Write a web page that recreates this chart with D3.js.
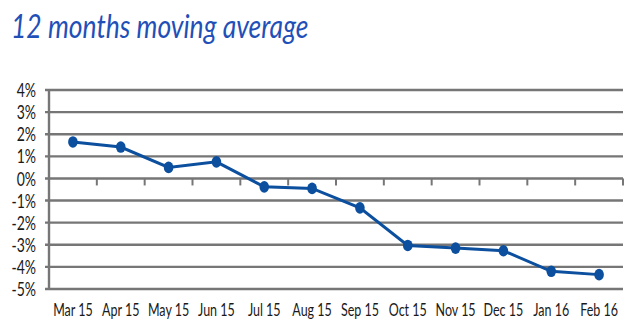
<!DOCTYPE html>
<html><head><meta charset="utf-8">
<script src="https://cdn.jsdelivr.net/npm/d3@7"></script>
<style>body{margin:0;background:#fff}svg{display:block}</style>
</head><body><svg id="c" width="640" height="328"></svg>
<script>
const categories = ["Mar 15","Apr 15","May 15","Jun 15","Jul 15","Aug 15","Sep 15","Oct 15","Nov 15","Dec 15","Jan 16","Feb 16"];
const values = [1.65, 1.42, 0.5, 0.75, -0.38, -0.45, -1.33, -3.03, -3.15, -3.27, -4.2, -4.35];
const yTicks = [4,3,2,1,0,-1,-2,-3,-4,-5];
const yTickLabels = ["4%","3%","2%","1%","0%","-1%","-2%","-3%","-4%","-5%"];
const title = "12 months moving average";

const svg = d3.select("#c");
const x = d3.scaleBand().domain(categories).range([49, 623]);
const y = d3.scaleLinear().domain([-5, 4]).range([289, 90]);
const SY = 1.4;
const gridColor = "#767676";
const lineColor = "#0B4F9E";

svg.append("g").attr("transform", `translate(11,38) scale(1,1.25)`)
  .append("text").text(title)
  .attr("font-family", "Lato, sans-serif").attr("font-style", "italic")
  .attr("font-size", 26.5).attr("fill", "#1F50B8");

// gridlines
svg.append("g").selectAll("line").data(yTicks).join("line")
  .attr("x1", 45).attr("x2", 623)
  .attr("y1", d => y(d)).attr("y2", d => y(d))
  .attr("stroke", gridColor).attr("stroke-width", 2.4);

// y axis line
svg.append("line").attr("x1", 49).attr("x2", 49).attr("y1", y(4) - 1).attr("y2", y(-5) + 1)
  .attr("stroke", gridColor).attr("stroke-width", 2.4);

// category ticks on 0 line
svg.append("g").selectAll("line").data(categories).join("line")
  .attr("x1", d => x(d) + x.bandwidth()).attr("x2", d => x(d) + x.bandwidth())
  .attr("y1", y(0)).attr("y2", y(0) + 7)
  .attr("stroke", gridColor).attr("stroke-width", 2);

// y labels
svg.append("g").selectAll("g").data(yTicks).join("g")
  .attr("transform", d => `translate(36,${y(d)}) scale(1,${SY})`)
  .append("text").text((d, i) => yTickLabels[i])
  .attr("text-anchor", "end").attr("dy", "0.36em")
  .attr("font-family", "Lato, sans-serif").attr("font-size", 14).attr("fill", "#1a1a1a");

// x labels
svg.append("g").selectAll("g").data(categories).join("g")
  .attr("transform", d => `translate(${x(d) + x.bandwidth() / 2},316) scale(1,${SY})`)
  .append("text").text(d => d)
  .attr("text-anchor", "middle")
  .attr("font-family", "Lato, sans-serif").attr("font-size", 12.5).attr("fill", "#1a1a1a");

// line
const cx = (d, i) => x(categories[i]) + x.bandwidth() / 2;
svg.append("path").datum(values)
  .attr("d", d3.line().x(cx).y(d => y(d)))
  .attr("fill", "none").attr("stroke", lineColor).attr("stroke-width", 3);

svg.append("g").selectAll("ellipse").data(values).join("ellipse")
  .attr("cx", cx).attr("cy", d => y(d))
  .attr("rx", 4.8).attr("ry", 5.8).attr("fill", lineColor);
</script></body></html>
